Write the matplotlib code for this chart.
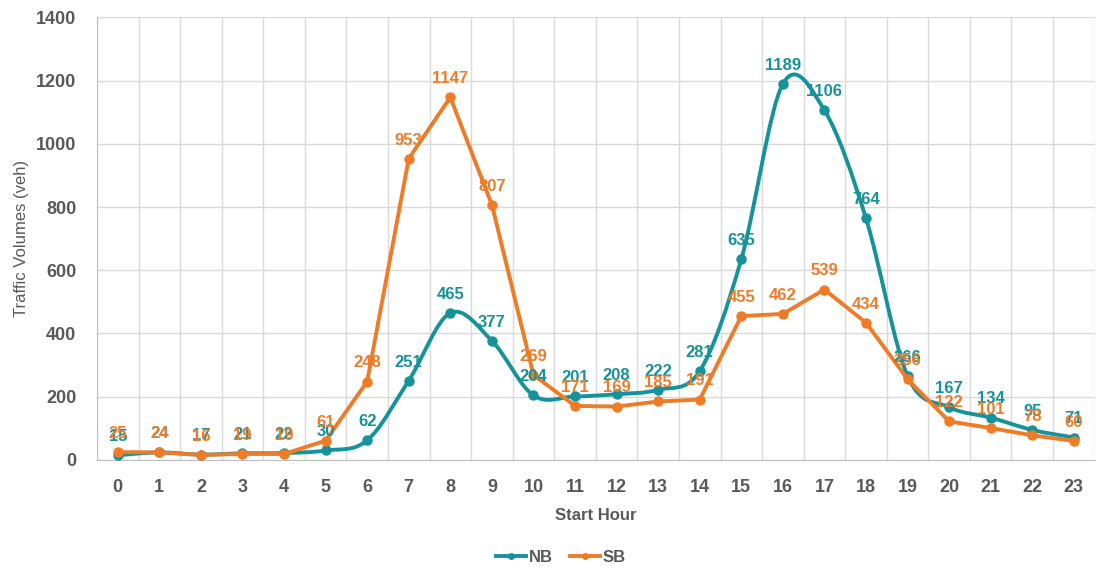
import matplotlib
matplotlib.use("Agg")
import matplotlib.pyplot as plt
from matplotlib.path import Path
from matplotlib.patches import PathPatch
from matplotlib.lines import Line2D
import numpy as np

hours = list(range(24))
nb = [15, 24, 17, 21, 22, 30, 62, 251, 465, 377, 204, 201, 208, 222, 281, 635, 1189, 1106, 764, 266, 167, 134, 95, 71]
sb = [25, 24, 16, 19, 19, 61, 248, 953, 1147, 807, 269, 171, 169, 185, 191, 455, 462, 539, 434, 256, 122, 101, 78, 60]

NB_COLOR = "#16939a"
SB_COLOR = "#f07b27"
TXT = "#595959"

plt.rcParams['font.family'] = ['Liberation Sans', 'DejaVu Sans']

fig = plt.figure(figsize=(11.06, 5.69), dpi=100)
ax = fig.add_axes([0.0877, 0.1916, 0.902, 0.778])


def smooth_path(xs, ys, t=1/6):
    xs = np.asarray(xs, float)
    ys = np.asarray(ys, float)
    n = len(xs)
    verts = [(xs[0], ys[0])]
    codes = [Path.MOVETO]
    for i in range(n - 1):
        p0 = (xs[max(i - 1, 0)], ys[max(i - 1, 0)])
        p1 = (xs[i], ys[i])
        p2 = (xs[i + 1], ys[i + 1])
        p3 = (xs[min(i + 2, n - 1)], ys[min(i + 2, n - 1)])
        c1 = (p1[0] + (p2[0] - p0[0]) * t, p1[1] + (p2[1] - p0[1]) * t)
        c2 = (p2[0] - (p3[0] - p1[0]) * t, p2[1] - (p3[1] - p1[1]) * t)
        verts += [c1, c2, p2]
        codes += [Path.CURVE4] * 3
    return Path(verts, codes)


# NB: smoothed line
ax.add_patch(PathPatch(smooth_path(hours, nb), facecolor="none", edgecolor=NB_COLOR, lw=2.8, zorder=3,
                       capstyle="round", joinstyle="round"))
ax.plot(hours, nb, linestyle="none", marker="o", ms=6.5, color=NB_COLOR, zorder=4)
# SB: straight segments
ax.plot(hours, sb, color=SB_COLOR, lw=2.8, marker="o", ms=6.5, zorder=4, solid_joinstyle="round")

for x, v in zip(hours, nb):
    ax.annotate(str(v), (x, v), xytext=(0, 8), textcoords="offset points", ha="center", va="bottom",
                color=NB_COLOR, fontsize=12, fontweight="bold", zorder=5)
for x, v in zip(hours, sb):
    ax.annotate(str(v), (x, v), xytext=(0, 8), textcoords="offset points", ha="center", va="bottom",
                color=SB_COLOR, fontsize=12, fontweight="bold", zorder=6)

ax.set_xlim(-0.5, 23.5)
ax.set_ylim(0, 1400)
ax.set_yticks(range(0, 1401, 200))
ax.set_xticks(hours)
ax.set_xticks(np.arange(-0.5, 24, 1), minor=True)
ax.grid(False)
ax.grid(axis="y", which="major", color="#d9d9d9", lw=1)
ax.grid(axis="x", which="minor", color="#d9d9d9", lw=1)
ax.set_axisbelow(True)
for s in ["top", "right"]:
    ax.spines[s].set_visible(False)
ax.spines["left"].set_color("#bfbfbf")
ax.spines["bottom"].set_color("#bfbfbf")
ax.tick_params(axis="both", which="both", length=0, labelsize=13, labelcolor=TXT)
ax.tick_params(axis="x", pad=14)
ax.tick_params(axis="y", pad=15)
for lab in ax.get_xticklabels() + ax.get_yticklabels():
    lab.set_fontweight("bold")
ax.set_xlabel("Start Hour", fontsize=12, fontweight="bold", color=TXT, labelpad=8)
ax.set_ylabel("Traffic Volumes (veh)", fontsize=12, color=TXT, labelpad=5)

handles = [Line2D([], [], color=NB_COLOR, lw=2.8, marker="o", ms=4),
           Line2D([], [], color=SB_COLOR, lw=2.8, marker="o", ms=4)]
fig.legend(handles, ["NB", "SB"], loc="center", bbox_to_anchor=(0.507, 0.02), ncol=2, frameon=False,
           prop={"size": 12, "weight": "bold"}, labelcolor=TXT, handlelength=1.8,
           columnspacing=1.0, handletextpad=0.2)

fig.savefig("out.png", dpi=100)
